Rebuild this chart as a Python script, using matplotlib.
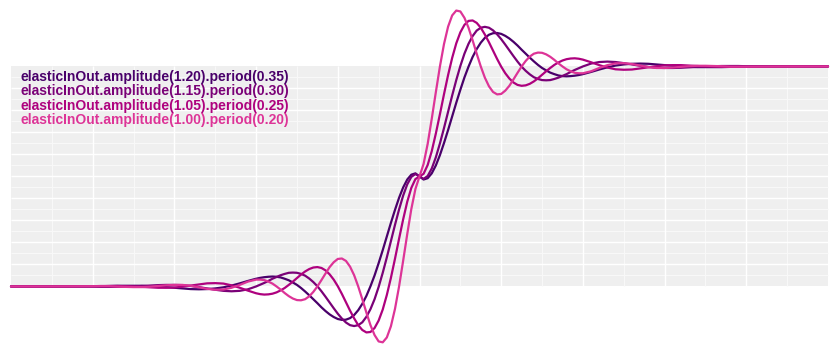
import numpy as np
import matplotlib
matplotlib.use("Agg")
import matplotlib.pyplot as plt

# sample positions along the x axis (0..1)
t = [0, 0.05, 0.1, 0.11, 0.12, 0.13, 0.14, 0.15, 0.16, 0.17, 0.18, 0.19, 0.2, 0.21, 0.22,
     0.23, 0.24, 0.25, 0.26, 0.27, 0.28, 0.29,
     0.3, 0.305, 0.31, 0.315, 0.32, 0.325, 0.33, 0.335, 0.34, 0.345, 0.35, 0.355, 0.36, 0.365,
     0.37, 0.375, 0.38, 0.385, 0.39, 0.395, 0.4, 0.405, 0.41, 0.415, 0.42, 0.425, 0.43, 0.435,
     0.44, 0.445, 0.45, 0.455, 0.46, 0.465, 0.47, 0.475, 0.48, 0.485, 0.49, 0.495, 0.5,
     0.505, 0.51, 0.515, 0.52, 0.525, 0.53, 0.535, 0.54, 0.545, 0.55, 0.555, 0.56, 0.565, 0.57,
     0.575, 0.58, 0.585, 0.59, 0.595, 0.6, 0.605, 0.61, 0.615, 0.62, 0.625, 0.63, 0.635, 0.64,
     0.645, 0.65, 0.655, 0.66, 0.665, 0.67, 0.675, 0.68, 0.685, 0.69, 0.695, 0.7,
     0.71, 0.72, 0.73, 0.74, 0.75, 0.76, 0.77, 0.78, 0.79, 0.8, 0.81, 0.82, 0.83, 0.84, 0.85,
     0.86, 0.87, 0.88, 0.89, 0.9, 0.95, 1.0]

labels = ["elasticInOut.amplitude(1.20).period(0.35)",
          "elasticInOut.amplitude(1.15).period(0.30)",
          "elasticInOut.amplitude(1.05).period(0.25)",
          "elasticInOut.amplitude(1.00).period(0.20)"]
colors = ["#49006a", "#7a0177", "#ae017e", "#dd3497"]

y_a = [0.000, -0.001, 0.001, 0.001, 0.002, 0.003, 0.003, 0.003, 0.003, 0.001, -0.001, -0.003,
       -0.006, -0.009, -0.012, -0.013, -0.012, -0.009, -0.004, 0.004, 0.014, 0.025,
       0.035, 0.039, 0.042, 0.044, 0.045, 0.044, 0.041, 0.035, 0.028, 0.018, 0.007, -0.007,
       -0.023, -0.040, -0.058, -0.076, -0.095, -0.112, -0.127, -0.139, -0.148, -0.152, -0.151,
       -0.144, -0.130, -0.108, -0.079, -0.043, 0.001, 0.050, 0.106, 0.165, 0.227, 0.289, 0.348,
       0.403, 0.450, 0.486, 0.508, 0.514, 0.500,
       0.486, 0.492, 0.514, 0.550, 0.597, 0.652, 0.711, 0.773, 0.835, 0.894, 0.950, 0.999,
       1.043, 1.079, 1.108, 1.130, 1.144, 1.151, 1.152, 1.148, 1.139, 1.127, 1.112, 1.095,
       1.076, 1.058, 1.040, 1.023, 1.007, 0.993, 0.982, 0.972, 0.965, 0.959, 0.956, 0.955,
       0.956, 0.958, 0.961, 0.965,
       0.975, 0.986, 0.996, 1.004, 1.009, 1.012, 1.013, 1.012, 1.009, 1.006, 1.003, 1.001,
       0.999, 0.997, 0.997, 0.997, 0.997, 0.998, 0.999, 0.999, 1.001, 1.000]

y_b = [0.000, 0.000, -0.001, -0.002, -0.002, -0.002, -0.001, 0.000, 0.002, 0.004, 0.006, 0.007,
       0.007, 0.006, 0.002, -0.003, -0.009, -0.015, -0.020, -0.022, -0.020, -0.013,
       0.000, 0.008, 0.016, 0.025, 0.035, 0.043, 0.051, 0.057, 0.062, 0.063, 0.062, 0.057,
       0.049, 0.036, 0.020, 0.001, -0.022, -0.047, -0.073, -0.099, -0.124, -0.146, -0.164,
       -0.176, -0.180, -0.176, -0.163, -0.138, -0.103, -0.058, -0.002, 0.062, 0.132, 0.206,
       0.280, 0.350, 0.413, 0.464, 0.498, 0.511, 0.500,
       0.489, 0.502, 0.536, 0.587, 0.650, 0.720, 0.794, 0.868, 0.938, 1.002, 1.058, 1.103,
       1.138, 1.163, 1.176, 1.180, 1.176, 1.164, 1.146, 1.124, 1.099, 1.073, 1.047, 1.022,
       0.999, 0.980, 0.964, 0.951, 0.943, 0.938, 0.937, 0.938, 0.943, 0.949, 0.957, 0.965,
       0.975, 0.984, 0.992, 1.000,
       1.013, 1.020, 1.022, 1.020, 1.015, 1.009, 1.003, 0.998, 0.994, 0.993, 0.993, 0.994,
       0.996, 0.998, 1.000, 1.001, 1.002, 1.002, 1.002, 1.001, 1.000, 1.000]

y_c = [0.000, 0.000, 0.001, 0.002, 0.002, 0.002, 0.001, 0.000, -0.002, -0.004, -0.006, -0.006,
       -0.005, -0.001, 0.004, 0.009, 0.014, 0.015, 0.013, 0.005, -0.006, -0.019,
       -0.031, -0.035, -0.037, -0.036, -0.033, -0.027, -0.018, -0.007, 0.007, 0.022, 0.038,
       0.054, 0.068, 0.079, 0.086, 0.088, 0.084, 0.073, 0.055, 0.031, 0.001, -0.034, -0.072,
       -0.110, -0.145, -0.176, -0.198, -0.209, -0.207, -0.189, -0.155, -0.105, -0.039, 0.039,
       0.126, 0.217, 0.305, 0.385, 0.448, 0.488, 0.500,
       0.512, 0.552, 0.615, 0.695, 0.783, 0.874, 0.961, 1.039, 1.105, 1.155, 1.189, 1.207,
       1.209, 1.198, 1.176, 1.145, 1.110, 1.072, 1.034, 0.999, 0.969, 0.945, 0.927, 0.916,
       0.912, 0.914, 0.921, 0.932, 0.946, 0.962, 0.978, 0.993, 1.007, 1.018, 1.027, 1.033,
       1.036, 1.037, 1.035, 1.031,
       1.019, 1.006, 0.995, 0.987, 0.985, 0.986, 0.991, 0.996, 1.001, 1.005, 1.006, 1.006,
       1.004, 1.002, 1.000, 0.999, 0.998, 0.998, 0.998, 0.999, 1.000, 1.000]

y_d = [0.000, 0.000, 0.001, 0.001, 0.001, -0.001, -0.002, -0.003, -0.003, -0.001, 0.002, 0.005,
       0.007, 0.007, 0.003, -0.004, -0.011, -0.015, -0.014, -0.006, 0.007, 0.022,
       0.031, 0.031, 0.029, 0.022, 0.013, 0.000, -0.014, -0.030, -0.044, -0.055, -0.062,
       -0.063, -0.058, -0.045, -0.025, 0.000, 0.029, 0.059, 0.088, 0.110, 0.125, 0.127, 0.116,
       0.090, 0.051, 0.000, -0.058, -0.119, -0.176, -0.221, -0.250, -0.254, -0.232, -0.181,
       -0.102, 0.000, 0.117, 0.238, 0.352, 0.443, 0.500,
       0.557, 0.648, 0.762, 0.883, 1.000, 1.102, 1.181, 1.232, 1.254, 1.250, 1.221, 1.176,
       1.119, 1.058, 1.000, 0.949, 0.910, 0.884, 0.873, 0.875, 0.890, 0.912, 0.941, 0.971,
       1.000, 1.025, 1.045, 1.058, 1.063, 1.062, 1.055, 1.044, 1.030, 1.014, 1.000, 0.987,
       0.978, 0.971, 0.969, 0.969,
       0.978, 0.993, 1.006, 1.014, 1.015, 1.011, 1.004, 0.997, 0.993, 0.993, 0.995, 0.998,
       1.001, 1.003, 1.003, 1.002, 1.001, 0.999, 0.999, 0.999, 1.000, 1.000]

series = [y_a, y_b, y_c, y_d]

W, H = 838, 352
fig = plt.figure(figsize=(W / 100, H / 100), dpi=100)
ax = fig.add_axes([0, 0, 1, 1])
ax.set_xlim(-11 / 817, 1 + 10 / 817)
ax.set_ylim(-0.298, 1.302)
ax.axis("off")

# grey plot band with white grid, only inside the 0..1 square
ax.add_patch(plt.Rectangle((0, 0), 1, 1, facecolor="#efefef", edgecolor="none", zorder=0))
minor = np.arange(0.05, 1.0, 0.1)
major = np.arange(0.1, 1.0, 0.1)
ax.vlines(minor, 0, 1, color="#f8f8f8", lw=0.8, zorder=1)
ax.hlines(minor, 0, 1, color="#f8f8f8", lw=0.8, zorder=1)
ax.vlines(major, 0, 1, color="white", lw=1.0, zorder=1)
ax.hlines(major, 0, 1, color="white", lw=1.0, zorder=1)

for ys, c in zip(series, colors):
    ax.plot(t, ys, color=c, lw=1.6, zorder=3, solid_capstyle="round", clip_on=False)

for i, (lab, c) in enumerate(zip(labels, colors)):
    fig.text(20 / W, 1 - (81 + i * 14.4) / H, lab, color=c, fontsize=10,
             fontweight="bold", family="Liberation Sans", va="baseline", ha="left")

fig.savefig("out.png", dpi=100)
